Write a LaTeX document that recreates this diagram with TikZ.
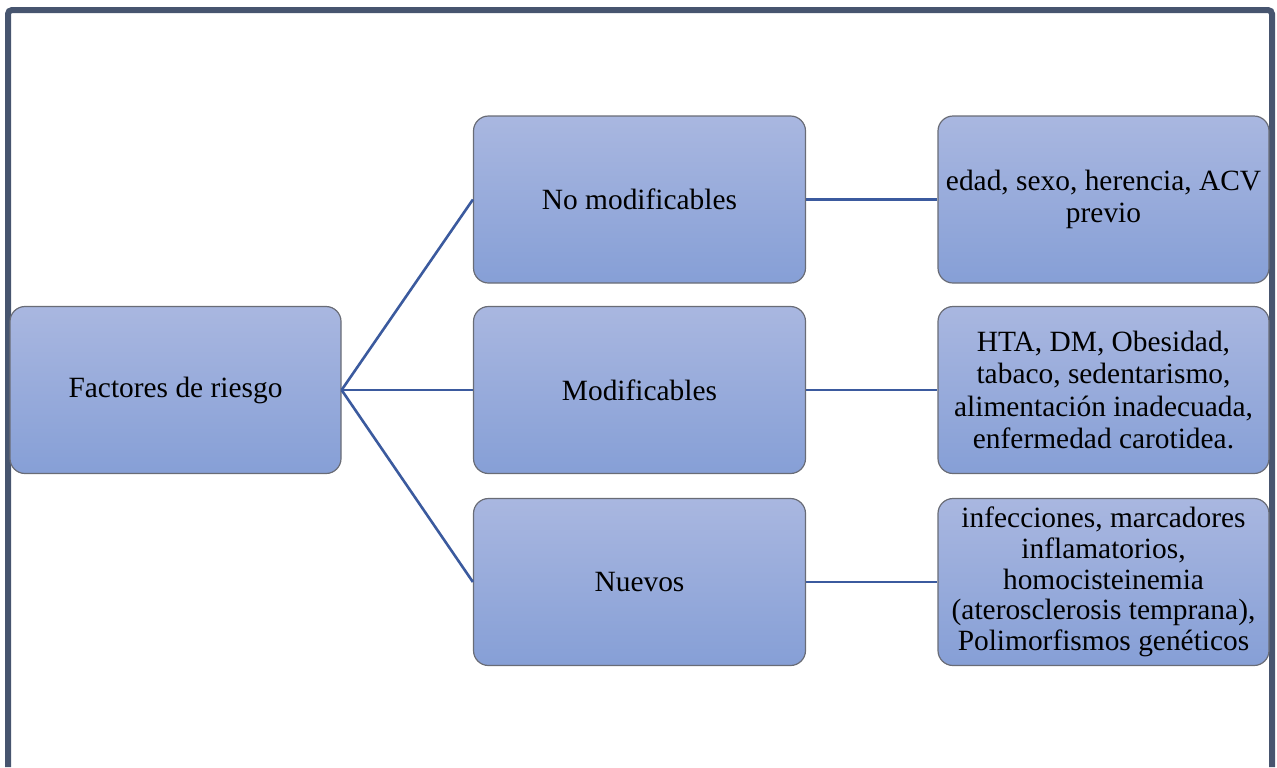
\documentclass[tikz,border=0pt]{standalone}
\usepackage{fontspec}
\setmainfont{Liberation Serif}
\usepackage{tikz}
\definecolor{boxtop}{RGB}{169,183,224}
\definecolor{boxbot}{RGB}{134,159,214}
\definecolor{boxline}{RGB}{105,108,118}
\definecolor{linkblue}{RGB}{59,90,158}
\definecolor{framegray}{RGB}{71,85,111}
\begin{document}
\begin{tikzpicture}[x=0.5pt,y=-0.5pt,
  box/.style={draw=boxline,line width=0.6pt,rounded corners=7.5pt,top color=boxtop,bottom color=boxbot,
    minimum width=166pt,minimum height=83.5pt,align=center,inner sep=2pt,
    font=\fontsize{14.7}{16.3}\selectfont},
  link/.style={draw=linkblue,line width=1.3pt},
  frame/.style={draw=framegray,line width=3pt,rounded corners=2pt}]
\useasboundingbox (0,0) rectangle (1277,767);
\draw[frame] (8,767) -- (8,10) -- (1272,10) -- (1272,767);
\node[box,minimum width=165.5pt] (fr) at (175.5,390) {Factores de riesgo};
\foreach \n/\y/\t in %
{nm/199.5/No modificables,mo/390/Modificables,nu/582/Nuevos} {
   \node[box] (\n) at (639.5,\y) {\t};
   \draw[link] (fr.east) -- (\n.west);
}
\foreach \n/\y/\t in %
{dnm/199.5/{edad, sexo, herencia, ACV\\previo},
 dmo/390/{HTA, DM, Obesidad,\\tabaco, sedentarismo,\\alimentación inadecuada,\\enfermedad carotidea.}} {
   \node[box,minimum width=165.5pt] (\n) at (1103.5,\y) {\t};
}
\node[box,minimum width=165.5pt,font=\fontsize{14.7}{15.3}\selectfont] (dnu) at (1103.5,582)
   {infecciones, marcadores\\inflamatorios,\\homocisteinemia\\(aterosclerosis temprana),\\Polimorfismos genéticos};
\draw[link] (nm.east) -- (dnm.west);
\draw[link] (mo.east) -- (dmo.west);
\draw[link] (nu.east) -- (dnu.west);
\end{tikzpicture}
\end{document}
